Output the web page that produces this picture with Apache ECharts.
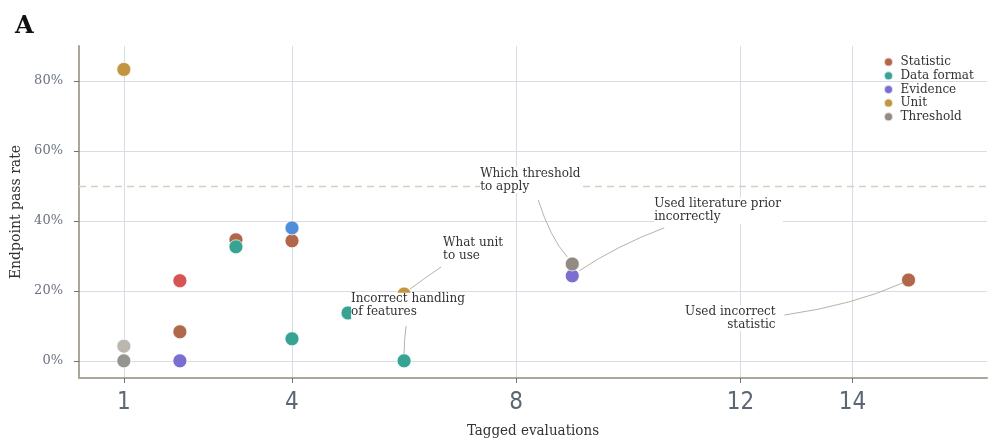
<!DOCTYPE html>
<html><head><meta charset="utf-8">
<script src="https://cdn.jsdelivr.net/npm/echarts@6/dist/echarts.min.js"></script>
<style>html,body{margin:0;padding:0;background:#fff}#c{width:998px;height:438px}</style>
</head><body><div id="c"></div>
<script>
// ---- data ----
const xTicks = [1, 4, 8, 12, 14];
const yTicks = [0, 20, 40, 60, 80];
const statistic = [[2, 8.3], [3, 34.6], [4, 34.3], [15, 23.1]];
const dataFormat = [[3, 32.6], [4, 6.3], [5, 13.7], [6, 0]];
const evidence = [[2, 0], [9, 24.3]];
const unit = [[1, 83.3], [6, 19.1]];
const threshold = [[9, 27.7]];
const otherPoints = [[2, 22.9], [4, 38.0], [1, 4.2], [1, 0]];
const otherColors = ['#d65454', '#4f8fd9', '#bbb6ae', '#969491'];
const passLine = 50;
const annotations = [
  {text: 'Which threshold\nto apply', pt: [9, 27.7], t: [-92, -97], a: 'left', l0: [-34, -64], c: [-22, -26], l1: [-5, -7]},
  {text: 'Used literature prior\nincorrectly', pt: [9, 24.3], t: [82, -78], a: 'left', l0: [92, -48], c: [44, -30], l1: [7, -5]},
  {text: 'What unit\nto use', pt: [6, 19.1], t: [39, -58], a: 'left', l0: [37, -27], c: [22, -17], l1: [6, -5]},
  {text: 'Incorrect handling\nof features', pt: [6, 0], t: [-53, -68], a: 'left', l0: [2, -35], c: [0, -20], l1: [0, -7]},
  {text: 'Used incorrect\nstatistic', pt: [15, 23.1], t: [-131, 25], a: 'right', l0: [-124, 35], c: [-55, 25], l1: [-6, 3]}
];

const serif = 'DejaVu Serif';
const chart = echarts.init(document.getElementById('c'));
function sc(name, color, data) {
  return {name, type: 'scatter', data, symbolSize: 14, z: 3,
    itemStyle: {color, opacity: 1, borderColor: 'rgba(255,255,255,0.7)', borderWidth: 1}};
}
const series = [
  sc('Statistic', '#b1684a', statistic),
  sc('Data format', '#36a393', dataFormat),
  sc('Evidence', '#7a6fd1', evidence),
  sc('Unit', '#c39540', unit),
  sc('Threshold', '#938b83', threshold),
  {name: 'Other', type: 'scatter', symbolSize: 14, z: 3,
    data: otherPoints.map((p, i) => ({value: p, itemStyle: {color: otherColors[i]}})),
    itemStyle: {opacity: 1, borderColor: 'rgba(255,255,255,0.7)', borderWidth: 1},
    markLine: {silent: true, symbol: 'none', label: {show: false},
      lineStyle: {color: '#d8cfbd', type: [7, 5], width: 1.3, opacity: 1},
      data: [{yAxis: passLine}]}}
];
chart.setOption({
  animation: false,
  grid: {left: 79, right: 11, top: 46, bottom: 60, containLabel: false, outerBoundsMode: 'none'},
  title: {text: 'A', left: 10, top: 10, textStyle: {fontFamily: serif, fontWeight: 'bold', fontSize: 24, color: '#111'}},
  legend: {orient: 'vertical', left: 878, top: 51, icon: 'circle', itemWidth: 16, itemHeight: 9, itemGap: 1.7,
    data: ['Statistic', 'Data format', 'Evidence', 'Unit', 'Threshold'],
    textStyle: {fontFamily: serif, fontSize: 12, color: '#333', lineHeight: 11, padding: [0, 0, 0, -1]}},
  xAxis: {type: 'value', min: 0.2, max: 16.4,
    name: 'Tagged evaluations', nameLocation: 'middle', nameGap: 46,
    nameTextStyle: {fontFamily: 'DejaVu Serif Condensed', fontSize: 15, color: '#333'},
    axisLine: {onZero: false, lineStyle: {color: '#aca699', width: 2}},
    axisTick: {show: true, customValues: xTicks, length: 5, lineStyle: {color: '#6b7280'}},
    axisLabel: {customValues: xTicks, margin: 13, fontFamily: 'DejaVu Sans Condensed', fontSize: 24, color: '#5d6673'},
    splitLine: {show: true, lineStyle: {color: '#d7dce5', width: 1}}},
  yAxis: {type: 'value', min: -4.9, max: 90,
    name: 'Endpoint pass rate', nameLocation: 'middle', nameGap: 52,
    nameTextStyle: {fontFamily: serif, fontSize: 14, color: '#333'},
    axisLine: {show: true, onZero: false, lineStyle: {color: '#aca699', width: 2}},
    axisTick: {show: true, customValues: yTicks, length: 5, lineStyle: {color: '#6b7280'}},
    axisLabel: {customValues: yTicks, margin: 16, fontFamily: serif, fontSize: 13, color: '#6b7280', formatter: v => v + '%'},
    splitLine: {show: true, lineStyle: {color: '#d7dce5', width: 1}}},
  series
});

const g = [];
annotations.forEach(an => {
  const p = chart.convertToPixel({xAxisIndex: 0, yAxisIndex: 0}, an.pt);
  g.push({type: 'bezierCurve', z: 10, silent: true,
    shape: {x1: p[0] + an.l0[0], y1: p[1] + an.l0[1], x2: p[0] + an.l1[0], y2: p[1] + an.l1[1],
      cpx1: p[0] + an.c[0], cpy1: p[1] + an.c[1]},
    style: {stroke: '#b9b1a6', lineWidth: 1, fill: null}});
  g.push({type: 'text', z: 11, silent: true, x: p[0] + an.t[0], y: p[1] + an.t[1],
    style: {text: an.text, font: '12px "DejaVu Serif"', fill: '#333', align: an.a, verticalAlign: 'top',
      lineHeight: 13, backgroundColor: '#fff', padding: [0, 2, 0, 0]}});
});
chart.setOption({graphic: g});
</script></body></html>
